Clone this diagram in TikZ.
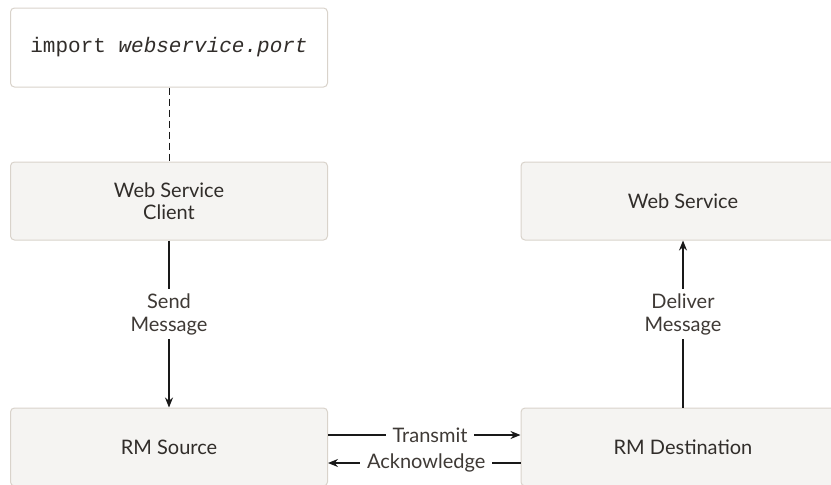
\documentclass[tikz,border=0pt]{standalone}
\usepackage{fontspec}
\setmainfont{Lato}
\setmonofont{Liberation Mono}
\usetikzlibrary{arrows.meta}
\definecolor{boxline}{HTML}{D9D3CB}
\definecolor{boxfill}{HTML}{F5F4F2}
\definecolor{txt}{HTML}{312D2A}
\definecolor{ltxt}{HTML}{3F3A36}
\tikzset{
  x=1pt, y=-1pt,
  box/.style={draw=boxline, line width=1pt, fill=boxfill, rounded corners=4pt, text=txt, font=\fontsize{20}{22}\selectfont, align=center, inner sep=0pt},
  codebox/.style={box, fill=white, font=\fontsize{21}{24}\selectfont\ttfamily},
  conn/.style={draw=black!90, line width=1.2pt},
  tip/.style={-{Stealth[length=10pt,width=8pt]}},
  lbl/.style={fill=white, text=ltxt, font=\fontsize{20}{23}\selectfont, align=center, inner xsep=1pt, inner ysep=4pt},
  hlbl/.style={lbl, inner xsep=7pt, inner ysep=1pt}
}
\begin{document}
\begin{tikzpicture}
\useasboundingbox (0,0) rectangle (831,485);
\clip (0,0) rectangle (831,485);
\node[codebox, minimum width=317pt, minimum height=79pt] (imp) at (169,47.5) {import \textit{webservice.port}};
\node[box, minimum width=317pt, minimum height=78pt] (wsc) at (169,201) {Web Service\\Client};
\node[box, minimum width=324pt, minimum height=78pt] (ws) at (683,201) {Web Service};
\node[box, minimum width=317pt, minimum height=78pt] (rms) at (169,447) {RM Source};
\node[box, minimum width=324pt, minimum height=78pt] (rmd) at (683,447) {RM Destination};
\draw[conn, line width=1pt, dash pattern=on 7pt off 4pt] (imp.south) -- (wsc.south |- wsc.north);
\draw[conn, tip] (wsc.south) -- node[lbl, pos=0.44] {Send\\Message} (rms.north);
\draw[conn, tip] (rmd.north) -- node[lbl, pos=0.56] {Deliver\\Message} (ws.south);
\draw[conn, tip] (rms.east |- 0,435) -- node[hlbl, pos=0.53] {Transmit} (rmd.west |- 0,435);
\draw[conn, tip] (rmd.west |- 0,463) -- node[hlbl, pos=0.49] {Acknowledge} (rms.east |- 0,463);
\end{tikzpicture}
\end{document}
